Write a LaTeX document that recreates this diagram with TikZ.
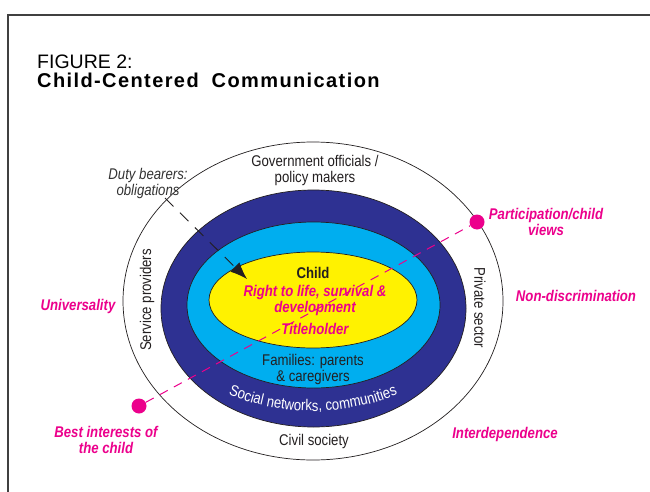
\documentclass[tikz,border=0pt]{standalone}
\usepackage{fontspec}
\setmainfont{Liberation Sans}
\newfontfamily\narrowfont{Liberation Sans}[FakeStretch=0.85]
\newfontfamily\titlefont{Liberation Sans}[LetterSpace=7]
\usepackage{tikz}
\usetikzlibrary{arrows.meta}
\usetikzlibrary{shapes.geometric}
\usetikzlibrary{decorations.text}

\definecolor{ringblue}{HTML}{2E3192}
\definecolor{ringcyan}{HTML}{00AEEF}
\definecolor{ringyellow}{HTML}{FFF200}
\definecolor{rightpink}{HTML}{EC008C}
\definecolor{inkgray}{HTML}{231F20}

\begin{document}
\begin{tikzpicture}[x=1pt,y=-1pt,
  ring/.style={ellipse,draw=inkgray,line width=0.7pt,inner sep=0pt},
  actor/.style={font={\narrowfont\fontsize{15.5}{16}\selectfont},text=inkgray,align=center,inner sep=0pt},
  principle/.style={font={\narrowfont\bfseries\itshape\fontsize{15.5}{16}\selectfont},text=rightpink,align=center,inner sep=0pt},
  pinkdot/.style={circle,fill=rightpink,minimum size=15pt,inner sep=0pt},
  pinkdash/.style={draw=rightpink,line width=1pt,dash pattern=on 9pt off 7pt},
  dutyarrow/.style={-{Latex[length=17pt,width=13pt]},draw=inkgray,line width=0.9pt,dash pattern=on 12pt off 9pt}]
      \tikzstyle{heading}=[anchor=base west,inner sep=0pt,text=black]

      \useasboundingbox (0,0) rectangle (650,492);
      \clip (0,0) rectangle (650,492);
      \fill[white] (0,0) rectangle (650,492);
      \draw[line width=1.5pt,draw=black!75] (8,15) rectangle (680,520);

      \node[heading,font={\fontsize{19.5}{20}\selectfont}] (figno) at (37,69) {FIGURE 2:};
      \node[heading,font={\titlefont\bfseries\fontsize{20}{20}\selectfont}] (figtitle) at (37,88) {Child-Centered\hspace{6pt} Communication};

      \node[ring,fill=white,minimum width=380pt,minimum height=318pt] (outer) at (313,301) {};
      \node[ring,fill=ringblue,minimum width=305pt,minimum height=237pt] (social) at (313.5,308.5) {};
      \node[ring,fill=ringcyan,minimum width=253pt,minimum height=166pt] (family) at (313.5,305) {};
      \node[ring,fill=ringyellow,minimum width=208pt,minimum height=96pt] (child) at (313,300) {};

      \path[decorate,decoration={text along path,text align=center,
	text={|\narrowfont\fontsize{15.5}{16}\selectfont\color{white}|Social networks, communities}}]
	(313,184.4) ++(125:226.6) arc[start angle=125,end angle=55,radius=226.6];

      \node[actor] (gov) at (315,170) {Government officials /\\policy makers};
      \node[actor] (civil) at (314,441) {Civil society};
      \node[actor,rotate=90] (service) at (147,300) {Service providers};
      \node[actor,rotate=-90] (private) at (480,308) {Private sector};
      \node[actor] (families) at (313,369) {Families: parents\\\& caregivers};
      \node[actor,font={\narrowfont\bfseries\fontsize{15.5}{16}\selectfont}] (childname) at (313,273) {Child};
      \node[principle] (life) at (315,300) {Right to life, survival \&\\development};
      \node[principle] (titleholder) at (315,329) {Titleholder};
      \node[actor,font={\narrowfont\itshape\fontsize{15.5}{16}\selectfont},text=black!80] (duty) at (148,183) {Duty bearers:\\obligations};

      \coordinate (dutyfrom) at (165,198);
      \coordinate (dutyto) at (247,279);
      \draw[dutyarrow] (dutyfrom) -- (dutyto);

      \node[pinkdot] (bestdot) at (139,406) {};
      \node[pinkdot] (viewsdot) at (477,222) {};
      \draw[pinkdash] (bestdot) -- (viewsdot);

      \node[principle] (universality) at (78,306) {Universality};
      \node[principle] (nondiscr) at (576,296) {Non-discrimination};
      \node[principle] (participation) at (546,222) {Participation/child\\views};
      \node[principle] (best) at (106,440) {Best interests of\\the child};
      \node[principle] (interdep) at (505,434) {Interdependence};

  \end{tikzpicture}
\end{document}
